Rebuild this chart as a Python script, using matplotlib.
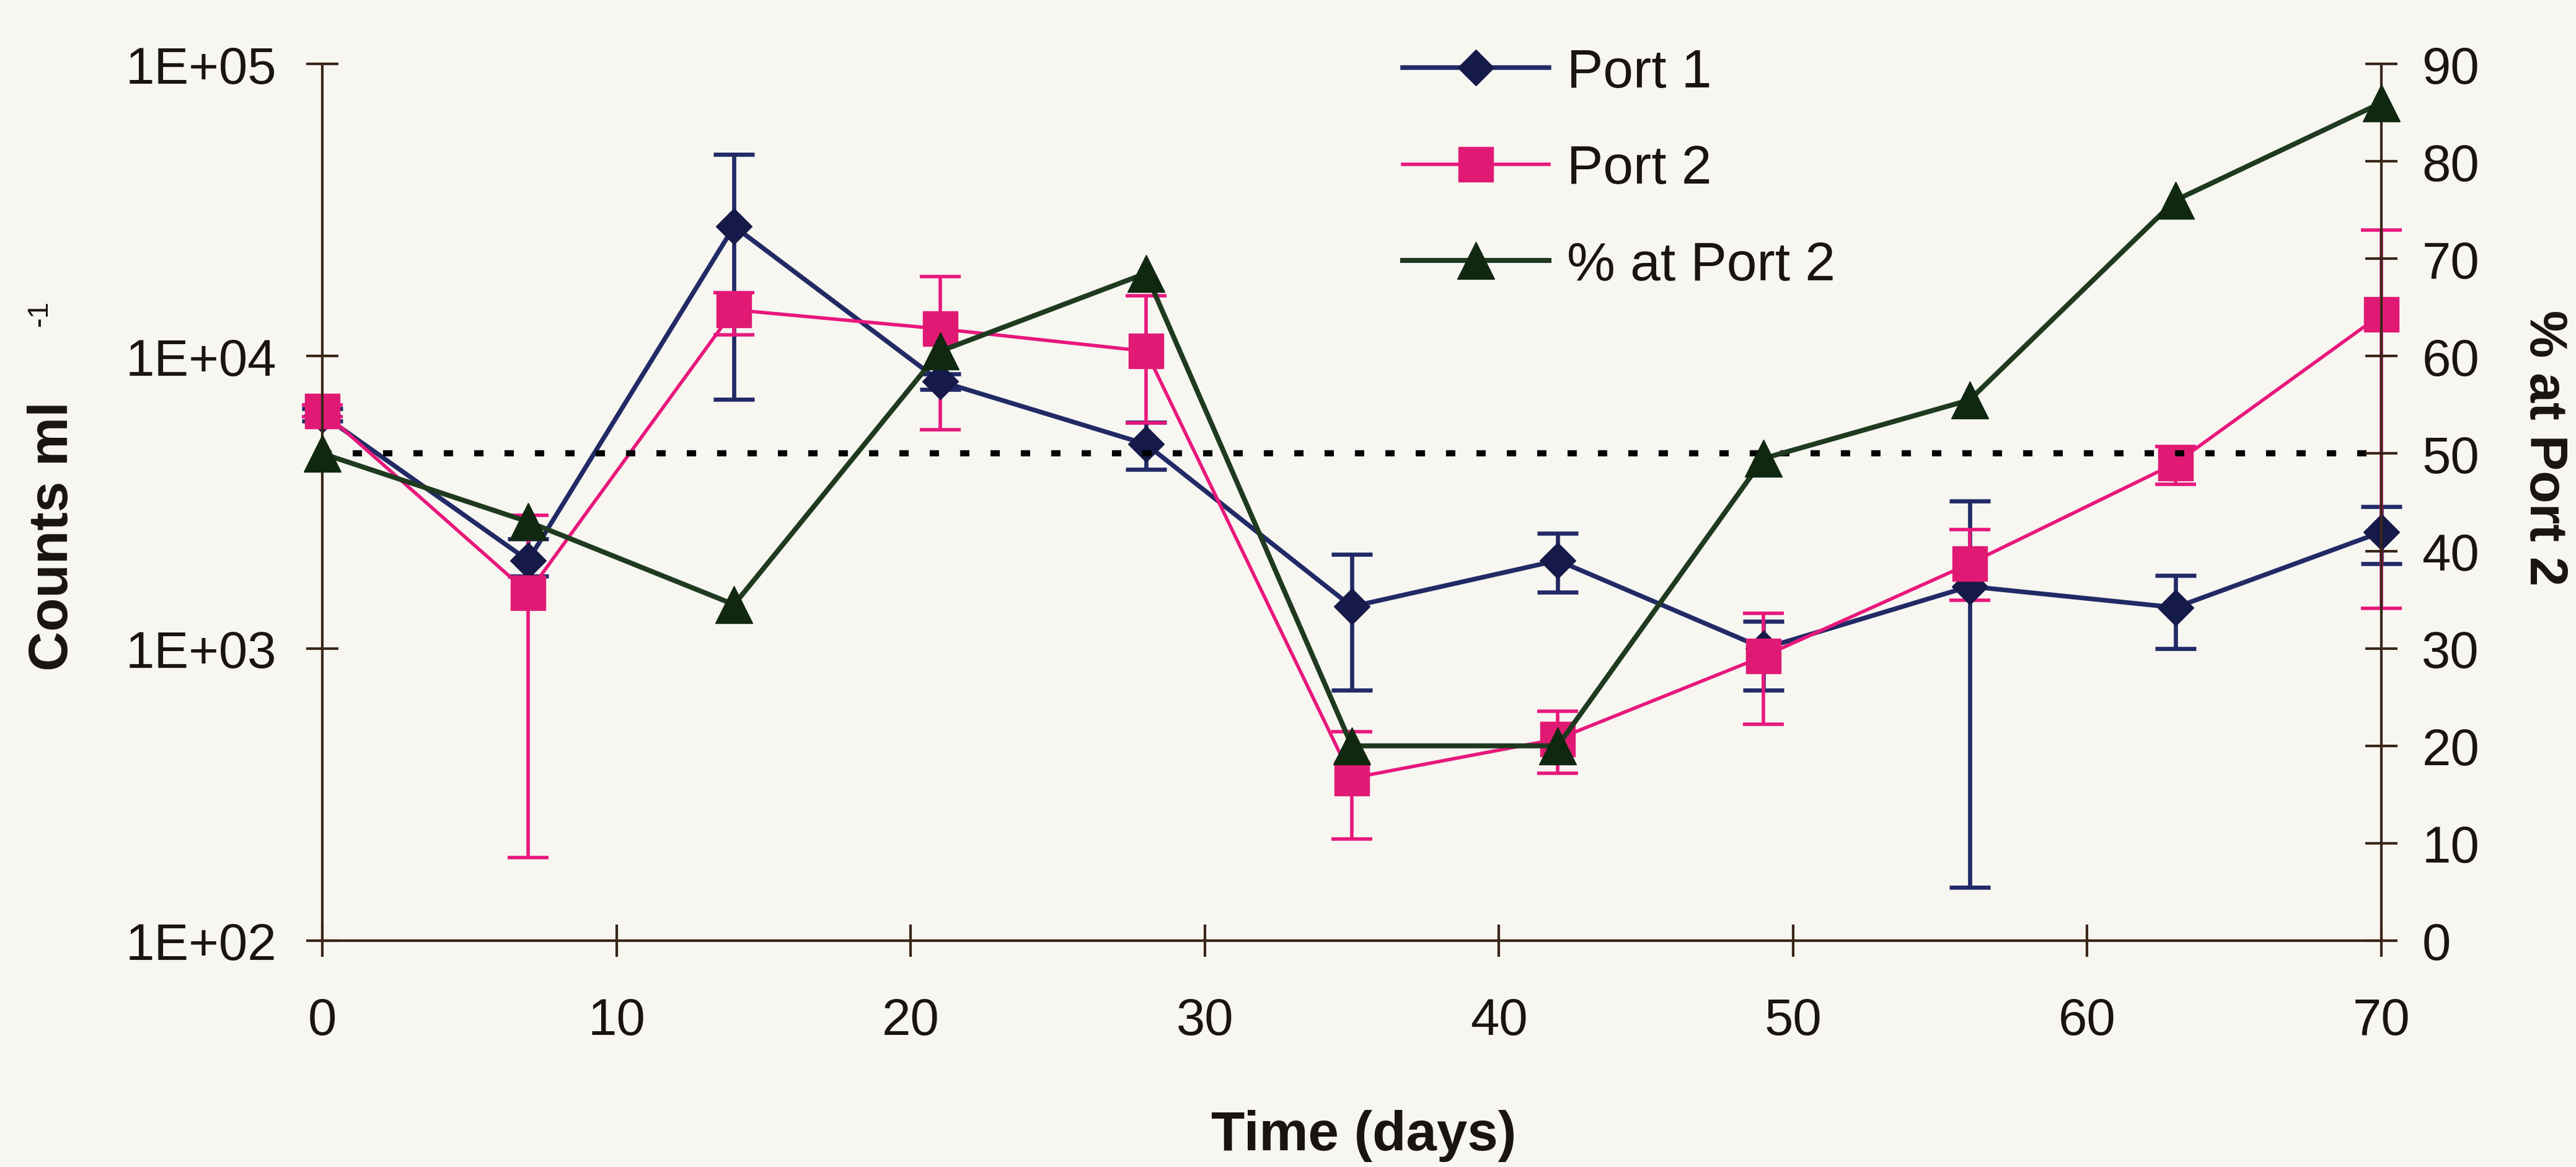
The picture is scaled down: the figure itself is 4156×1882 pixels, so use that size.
import matplotlib
matplotlib.use("Agg")
import matplotlib.pyplot as plt
from matplotlib.ticker import NullLocator
import numpy as np

# Sampling days
days = [0, 7, 14, 21, 28, 35, 42, 49, 56, 63, 70]

# Counts per ml at Port 1, with lower / upper ends of the error bars
port1 = [6300, 2000, 27800, 8200, 5000, 1390, 2000, 1000, 1630, 1380, 2500]
port1_lo = [6000, 1770, 7100, 7700, 4100, 720, 1560, 720, 152, 1000, 1950]
port1_hi = [6600, 2370, 49000, 8700, 5950, 2100, 2480, 1240, 3200, 1780, 3050]

# Counts per ml at Port 2, with lower / upper ends of the error bars
port2 = [6500, 1550, 14400, 12400, 10400, 360, 490, 940, 1950, 4300, 13900]
port2_lo = [6200, 192, 11800, 5600, 5900, 223, 374, 550, 1460, 3650, 1370]
port2_hi = [6800, 2850, 16500, 18700, 16100, 520, 610, 1320, 2550, 4900, 27000]

# Share of the total found at Port 2 (%)
pct_port2 = [50, 43, 34.5, 60.5, 68.5, 20, 20, 49.5, 55.5, 76, 86]

series_labels = ["Port 1", "Port 2", "% at Port 2"]
count_ticks = [1e2, 1e3, 1e4, 1e5]
count_tick_labels = ["1E+02", "1E+03", "1E+04", "1E+05"]
day_ticks = [0, 10, 20, 30, 40, 50, 60, 70]
pct_ticks = [0, 10, 20, 30, 40, 50, 60, 70, 80, 90]

BG = "#f7f6f1"
AXC = "#3a2618"
TXT = "#1a1410"
NAVY = "#222a66"
NAVY_M = "#161a48"
PINK = "#e8177c"
PINK_M = "#e01a74"
GREEN = "#1f3a1f"
GREEN_M = "#102810"

plt.rcParams["font.family"] = ["Liberation Sans", "DejaVu Sans"]

W, H, DPI = 4156, 1883, 100
fig = plt.figure(figsize=(W / DPI, H / DPI), dpi=DPI, facecolor=BG)
L, R, T, B = 520, 3842, 104, 1518
ax = fig.add_axes([L / W, 1 - B / H, (R - L) / W, (B - T) / H])
ax.set_facecolor("none")
ax2 = ax.twinx()
ax2.set_facecolor("none")


def draw_counts(axis, y, lo, hi, color, mcolor, marker, ms, lw, elw):
    y = np.asarray(y, dtype=float)
    yerr = [y - np.asarray(lo), np.asarray(hi) - y]
    cont = axis.errorbar(days, y, yerr=yerr, color=color, lw=lw,
                         marker=marker, ms=ms, mfc=mcolor, mec=mcolor,
                         ecolor=color, elinewidth=elw, capsize=24,
                         capthick=elw)
    data_line, caps, bars = cont.lines
    data_line.set_clip_on(False)
    for a in list(caps) + list(bars):
        a.set_clip_on(False)
    return data_line


h1 = draw_counts(ax, port1, port1_lo, port1_hi, NAVY, NAVY_M, "D", 30, 5.4, 4.8)
h2 = draw_counts(ax, port2, port2_lo, port2_hi, PINK, PINK_M, "s", 41, 4.0, 4.0)

ax.set_yscale("log")
ax.set_ylim(1e2, 1e5)
ax.set_yticks(count_ticks)
ax.set_yticklabels(count_tick_labels)
ax.yaxis.set_minor_locator(NullLocator())
ax.set_xlim(0, 70)
ax.set_xticks(day_ticks)

# 50 % reference line and the percentage series on the secondary axis
ax2.axhline(50, color="black", lw=7.2, dashes=(1.5, 3.4), dash_capstyle="butt", zorder=1.5)
h3, = ax2.plot(days, pct_port2, color=GREEN, lw=5.8, marker="^", ms=43,
               mfc=GREEN_M, mec=GREEN_M, clip_on=False, zorder=3)
ax2.set_ylim(0, 90)
ax2.set_yticks(pct_ticks)

for a in (ax, ax2):
    for s in a.spines.values():
        s.set_visible(False)
        s.set_color(AXC)
        s.set_linewidth(3)
ax.spines["left"].set_visible(True)
ax.spines["bottom"].set_visible(True)
ax2.spines["right"].set_visible(True)

ax.tick_params(axis="y", direction="inout", length=38, width=3, color=AXC,
               labelsize=60, pad=34, labelcolor=TXT)
ax.tick_params(axis="x", direction="inout", length=38, width=3, color=AXC,
               labelsize=60, pad=46, labelcolor=TXT)
ax2.tick_params(axis="y", direction="inout", length=38, width=3, color=AXC,
                labelsize=60, pad=28, labelcolor=TXT)

# Axis titles
fig.text(86 / W, 1 - 865 / H, "Counts ml", rotation=90, ha="center",
         va="center", fontsize=64, fontweight="bold", color=TXT)
fig.text(64 / W, 1 - 505 / H, "-1", rotation=90, ha="center",
         va="center", fontsize=34, color=TXT)
fig.text(4104 / W, 1 - 722 / H, "% at Port 2", rotation=270, ha="center",
         va="center", fontsize=62, fontweight="bold", color=TXT)
fig.text(2200 / W, 1 - 1832 / H, "Time (days)", ha="center", va="center",
         fontsize=64, fontweight="bold", color=TXT)

ax2.legend(handles=[h1, h2, h3], labels=series_labels, loc="upper left",
           bbox_to_anchor=(2263 / W, 1 - 78 / H), bbox_transform=fig.transFigure,
           frameon=False, fontsize=63, handlelength=2.7, handletextpad=0.33,
           labelspacing=0.85, borderpad=0, borderaxespad=0, labelcolor=TXT)

fig.savefig("out.png", dpi=DPI, facecolor=BG)
